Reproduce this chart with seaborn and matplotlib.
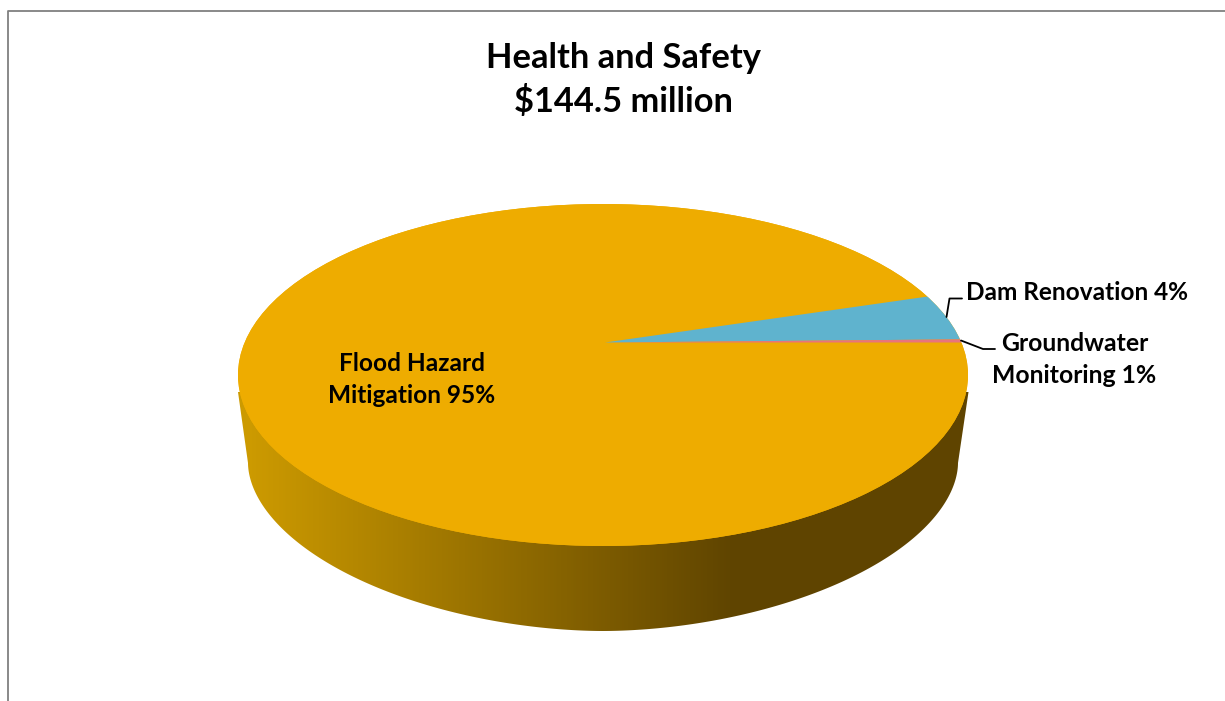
import numpy as np
import matplotlib
matplotlib.use('Agg')
import matplotlib.pyplot as plt
from matplotlib.patches import Circle, Polygon
import seaborn as sns

# slice shares as drawn (the labels are rounded)
categories = ['Flood Hazard Mitigation', 'Dam Renovation', 'Groundwater Monitoring']
shares = [95.3, 4.4, 0.3]
colors = ['#EEAC00', '#5FB3CE', '#E8747C']
title_lines = ['Health and Safety', '$144.5 million']

W, H = 1225, 701
K = 171 / 365   # squash of the tilted pie

sns.set_theme(style='white')
plt.rcParams['font.family'] = ['Lato', 'DejaVu Sans']
plt.rcParams['font.weight'] = 'bold'


def Y(py):
    # picture row -> data y
    return (H - py) / K


fig = plt.figure(figsize=(W / 100, H / 100), dpi=100, facecolor='white')
ax = fig.add_axes([0, 0, 1, 1])

# top surface of the pie, slices cut to it
top = Circle((603, Y(375)), 365, fc=colors[0], ec='none', zorder=3)
ax.add_patch(top)
wedges, _ = ax.pie(shares, colors=colors, center=(605, Y(342.5)), radius=900,
                   startangle=0, counterclock=False, frame=True,
                   wedgeprops={'linewidth': 0})
for w in wedges:
    w.set_zorder(4)
    w.set_clip_on(True)
    w.set_clip_path(top)

# side wall with the dark gradient, lower edge a bit flatter than an ellipse
t = np.linspace(0, np.pi, 300)
wall_x = 603 - 355 * np.sign(np.cos(t)) * np.abs(np.cos(t)) ** (2 / 1.87)
wall_y = Y(463 + 168 * np.sin(t) ** (2 / 1.87))
wall_pts = np.column_stack([wall_x, wall_y])
wall_pts = np.vstack([[[238, Y(392)]], wall_pts, [[968.5, Y(392)]]])
wall = Polygon(wall_pts, closed=True, fc='none', ec='none', transform=ax.transData)
ax.add_patch(wall)
cmap = sns.blend_palette(['#CC9A00', '#5F4400'], as_cmap=True)
grad = np.clip((np.arange(W) - 250) / (735 - 250), 0, 1).reshape(1, -1)
img = ax.imshow(grad, cmap=cmap, extent=(0, W, 0, H / K), aspect='auto', zorder=2, vmin=0, vmax=1)
img.set_clip_path(wall)

ax.set_aspect('auto')
ax.set_xlim(0, W)
ax.set_ylim(0, H / K)
ax.set_axis_off()

# chart frame, open on the right and at the bottom
ax.plot([8, 8, W], [Y(H), Y(11.5), Y(11.5)], color='#808080', lw=1.3, zorder=1, clip_on=False)

# title and labels
for line, py in zip(title_lines, [58.5, 101.5]):
    ax.text(623, Y(py), line.replace('$', r'\$'), ha='center', va='center', fontsize=24.8, color='black', zorder=6)
ax.text(412, Y(364), 'Flood Hazard', ha='center', va='center', fontsize=17.6, color='black', zorder=6)
ax.text(412, Y(396), 'Mitigation 95%', ha='center', va='center', fontsize=17.6, color='black', zorder=6)
ax.text(966, Y(293), 'Dam Renovation 4%', ha='left', va='center', fontsize=17.6, color='black', zorder=6)
ax.text(1074.5, Y(344), 'Groundwater', ha='center', va='center', fontsize=17.8, color='black', zorder=6)
ax.text(1074, Y(376), 'Monitoring 1%', ha='center', va='center', fontsize=17.8, color='black', zorder=6)

# leader lines
ax.plot([946.5, 949.5, 962], [Y(317), Y(298.5), Y(298.5)], color='black', lw=1.3, zorder=5)
ax.plot([961, 983, 995], [Y(340.5), Y(349), Y(349)], color='black', lw=1.3, zorder=5)

fig.savefig('out.png', dpi=100, facecolor='white')
